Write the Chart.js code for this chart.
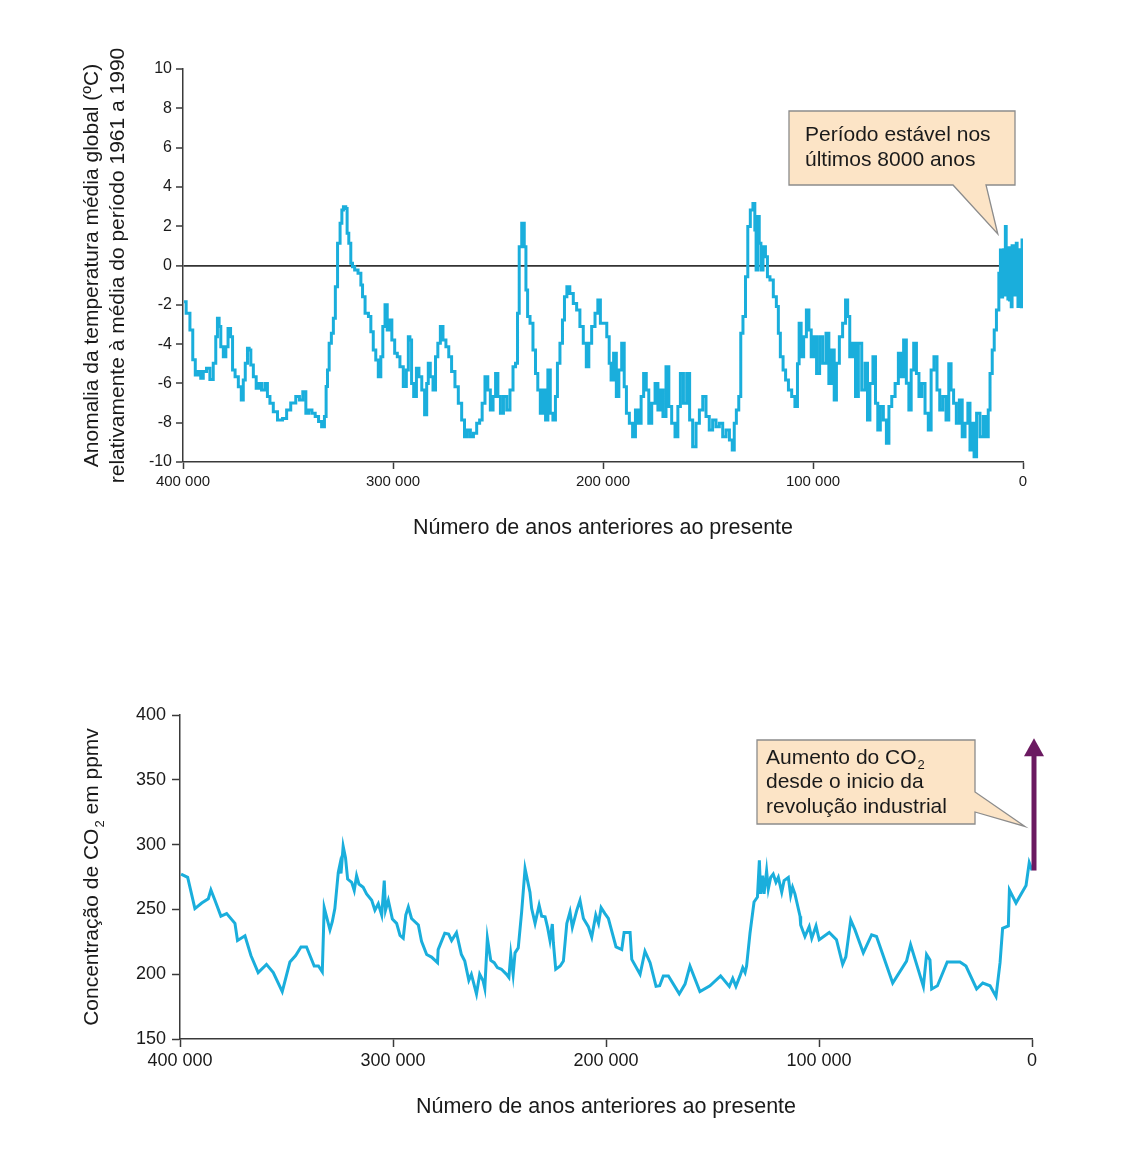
<!DOCTYPE html>
<html><head><meta charset="utf-8">
<script src="https://cdn.jsdelivr.net/npm/chart.js@4.4.0/dist/chart.umd.min.js"></script>
<style>
html,body{margin:0;padding:0;background:#fff;}
#wrap{position:relative;width:1130px;height:1167px;background:#fff;}
#c1{position:absolute;left:0;top:0;}
#c2{position:absolute;left:0;top:580px;}
</style></head><body>
<div id="wrap">
<canvas id="c1" width="1130" height="580"></canvas>
<canvas id="c2" width="1130" height="587"></canvas>
</div>
<script>
// ---------- DATA ----------
const tempAgeKyr = [399.5,397.5,395.9,394.8,393.5,392.0,391.1,389.6,388.0,386.4,384.8,384.0,383.2,382.4,381.6,380.0,379.2,377.9,376.8,376.0,374.4,372.9,371.6,371.0,369.7,368.9,368.1,367.3,365.7,364.6,363.4,361.8,360.2,359.4,357.8,356.2,353.8,351.4,349.9,347.5,345.1,344.0,341.9,341.1,339.2,338.0,336.1,334.8,333.2,332.1,331.6,330.8,330.0,328.7,328.1,326.8,326.0,324.4,324.3,322.9,322.1,321.6,320.5,319.7,318.9,317.6,315.7,314.9,314.1,312.5,310.9,310.2,308.6,307.8,306.2,305.4,304.3,303.3,302.2,301.1,300.0,298.4,297.5,295.9,294.3,293.0,292.4,291.5,290.8,289.5,288.2,287.1,285.5,284.4,283.5,282.9,281.6,280.3,279.2,278.1,276.8,275.6,274.0,272.9,271.3,269.7,268.1,266.5,265.4,263.8,262.5,260.9,259.4,258.1,257.0,255.4,254.3,253.0,251.7,250.6,249.5,248.2,246.6,245.1,243.5,242.2,241.1,240.3,239.5,237.9,237.1,236.3,235.5,234.0,232.7,231.6,230.5,229.2,227.9,226.8,225.7,224.5,223.2,222.1,221.3,219.7,218.9,217.8,216.6,215.0,213.3,211.8,210.2,208.6,207.3,206.2,204.6,203.0,201.9,200.6,199.0,197.4,196.7,195.6,194.3,193.0,191.9,190.3,189.5,188.2,186.7,185.1,184.0,182.4,181.3,180.0,178.8,177.6,176.0,174.4,173.3,172.1,170.8,169.2,168.1,166.5,164.9,163.8,162.5,160.9,159.4,158.1,156.5,154.9,153.3,151.7,150.2,148.6,147.0,145.4,143.8,142.2,140.6,139.0,137.9,137.1,135.9,134.8,134.0,132.7,131.6,130.5,129.2,128.0,127.4,126.8,126.0,125.2,124.4,123.2,122.1,121.3,119.7,118.1,116.8,116.2,114.9,113.6,112.5,110.9,109.4,107.8,107.0,106.2,105.1,103.8,102.5,101.4,100.3,99.1,97.5,96.2,94.6,93.0,91.9,90.3,89.5,88.2,86.7,85.1,83.9,83.1,81.9,80.3,79.2,77.6,76.0,74.4,73.7,72.1,70.8,69.7,68.6,67.3,65.7,64.4,63.3,61.7,60.1,58.6,57.5,56.2,54.9,53.8,52.7,51.4,50.1,49.0,47.4,45.9,44.3,43.2,41.6,40.3,39.0,37.4,35.9,34.8,33.7,32.4,31.1,29.5,28.4,26.8,25.7,24.8,23.7,22.9,21.3,19.7,18.1,16.9,16.2,15.2,14.1,13.3,12.0,11.0,10.5,10.0,9.4,9.0,8.6,8.2,7.8,7.4,7.0,6.6,6.2,5.8,5.4,5.0,4.6,4.2,3.8,3.4,3.0,2.6,2.2,1.8,1.4,1.0,0.6,0.3,0.0];
const tempAnomaly = [-1.84,-2.43,-3.28,-4.8,-5.57,-5.4,-5.74,-5.4,-5.23,-5.8,-4.98,-3.62,-2.69,-3.11,-4.13,-4.64,-4.13,-3.2,-3.62,-5.32,-5.66,-6.17,-6.84,-5.83,-4.98,-4.21,-4.3,-5.06,-5.66,-6.25,-6.0,-6.34,-6.0,-6.67,-7.01,-7.44,-7.86,-7.78,-7.35,-7.0,-6.67,-6.84,-6.42,-7.52,-7.35,-7.52,-7.69,-7.94,-8.2,-7.69,-6.16,-5.32,-3.96,-3.45,-2.69,-1.08,1.13,2.15,2.82,2.99,2.9,1.64,1.13,0.11,-0.06,-0.23,-0.4,-0.99,-1.59,-2.43,-2.6,-3.37,-4.3,-4.81,-5.66,-4.64,-3.11,-2.0,-3.28,-2.77,-3.79,-4.47,-4.64,-5.15,-6.16,-5.32,-3.62,-3.79,-6.0,-6.67,-5.23,-5.66,-6.34,-7.6,-6.0,-4.98,-5.66,-6.34,-4.64,-3.96,-3.11,-3.79,-4.13,-4.64,-5.4,-6.17,-7.01,-7.86,-8.71,-8.37,-8.71,-8.54,-8.03,-7.86,-7.01,-5.66,-6.34,-7.35,-6.67,-5.49,-6.67,-7.52,-6.67,-7.35,-6.34,-5.15,-4.98,-2.43,0.96,2.15,0.96,-1.25,-2.6,-2.94,-4.3,-5.49,-6.34,-7.52,-6.34,-7.86,-5.32,-7.52,-7.86,-6.67,-4.98,-3.96,-2.77,-1.59,-1.08,-1.42,-1.93,-2.26,-3.11,-3.96,-5.15,-3.96,-3.11,-2.43,-1.76,-2.94,-2.94,-3.62,-4.98,-5.83,-4.47,-6.67,-5.32,-3.96,-6.17,-7.52,-8.03,-8.71,-7.35,-8.03,-6.67,-5.49,-6.34,-8.03,-7.01,-6.0,-7.35,-6.34,-7.69,-5.15,-7.18,-8.03,-8.71,-7.18,-5.49,-7.01,-5.49,-7.86,-9.22,-8.03,-7.35,-6.67,-7.69,-8.37,-7.86,-8.2,-8.03,-8.71,-8.37,-8.88,-9.39,-8.03,-7.35,-6.67,-3.45,-2.6,-0.57,1.98,2.82,3.16,1.81,-0.23,2.49,1.13,-0.23,0.96,0.45,-0.57,-0.74,-1.59,-2.09,-3.45,-4.64,-5.32,-5.83,-6.34,-6.67,-7.18,-5.0,-2.94,-4.64,-3.62,-2.26,-3.28,-4.64,-3.62,-5.49,-3.62,-4.98,-3.45,-6.0,-4.3,-6.84,-4.98,-3.62,-2.94,-1.76,-2.6,-4.64,-3.96,-6.67,-3.96,-6.34,-4.98,-7.86,-6.0,-4.64,-7.01,-8.37,-7.18,-7.86,-9.05,-7.18,-6.67,-6.0,-4.47,-5.66,-3.79,-5.99,-7.35,-5.32,-3.96,-5.49,-6.67,-6.0,-7.52,-8.37,-5.32,-4.64,-6.34,-7.35,-6.67,-7.86,-5.0,-6.34,-7.01,-8.03,-6.84,-8.71,-8.03,-7.01,-9.39,-8.03,-9.73,-7.52,-8.71,-7.69,-8.71,-7.35,-5.49,-4.3,-3.28,-2.26,-0.4,0.79,-1.6,-1.25,0.8,-1.5,1.98,-0.8,0.6,-1.7,0.9,-1.76,0.4,-2.1,1.0,-1.3,0.7,-1.5,1.0,1.13,-1.4,-2.09,0.8,-1.6,0.6,-2.1,1.3,-1.0];

const co2AgeKyr = [399.5,396.4,393.0,389.8,386.7,385.5,383.6,380.8,378.1,374.2,373.0,369.5,366.7,363.3,359.4,356.2,352.0,348.4,345.7,343.2,340.6,337.0,335.0,333.2,332.3,329.6,328.5,327.3,325.7,324.9,324.4,323.4,322.3,321.3,319.4,318.2,317.1,316.0,314.0,312.4,310.0,308.5,306.9,305.3,304.1,303.5,302.2,300.3,298.3,296.7,295.2,294.0,292.8,291.3,288.1,286.6,284.2,281.9,279.1,278.8,275.7,273.9,272.5,270.2,267.9,266.3,264.4,263.2,262.4,260.8,259.3,257.7,256.9,255.7,254.1,252.5,251.0,249.1,246.7,245.6,244.7,243.6,242.7,241.2,239.6,238.0,235.7,234.9,233.3,231.4,230.2,228.6,227.4,226.3,225.2,224.7,223.6,221.5,220.0,218.4,216.9,215.8,213.7,212.2,210.6,208.3,206.7,204.8,203.5,202.3,200.5,198.9,195.3,192.6,191.5,188.7,187.9,184.0,181.7,179.3,176.5,174.8,173.1,170.7,165.6,162.9,160.6,155.9,151.2,146.2,142.1,140.5,139.0,137.1,135.8,134.7,134.0,132.4,130.5,128.9,128.0,127.4,126.5,125.8,124.6,123.8,122.7,121.5,120.2,119.1,117.5,116.4,114.4,113.3,112.4,111.3,108.9,108.6,106.6,104.6,103.4,101.4,99.9,95.2,91.8,88.9,87.4,85.1,83.1,79.2,75.3,73.0,65.4,58.9,57.0,51.0,49.5,47.9,47.1,44.4,39.8,33.8,31.0,26.0,23.1,19.7,16.9,15.0,13.8,11.1,10.6,7.5,5.9,2.8,1.3,0.0];
const co2Ppmv = [277.2,274.7,250.6,254.9,258.2,265,257,244.8,246.8,239.2,226,229.6,214.4,201.3,207.6,201.3,186.6,209.4,214.4,221,221,206.3,206.3,201.8,251.4,234.2,240.5,250.6,278.5,284.8,277.7,298.7,289.9,273.4,270.9,264.6,276,269.6,267.1,262,257,249.4,254.4,245.6,272.2,249.4,256.9,242.5,239.2,229.9,227.8,245.6,251.9,243,238,225.3,215.2,213.2,208.9,219,231.6,230.9,226,232.1,215.2,210.1,195.3,199.9,194.9,184.8,200,194.9,189.1,227.8,210.6,208.9,205.1,203.8,199.9,197.5,215.2,199.9,216.5,220.3,248.1,281.5,263.3,250.6,239.2,253.2,244.8,244.3,235.9,226.1,238.7,224.1,203.8,206.3,210.1,239.2,248.1,236.2,249.4,256.9,243,236.7,228.6,245.6,239.2,251.4,246.8,243,221,219,232.2,232.2,211.4,200,217.7,208.9,190.6,191.1,198.7,198.7,184.8,192.4,206.3,186.6,191.1,198.7,190.6,196.7,190.6,198.7,205,201.3,206.3,231.6,255.7,259.5,287.8,262,276,262,279.7,265.8,274.7,277.2,270.9,274.7,263.3,272.2,274.7,260.8,267.1,262,244.8,238,229.1,236.7,227.8,237.2,226.6,232.2,226.6,207.6,213.4,241.8,234.2,216.5,230.4,229.1,193.2,210.1,222.8,190.6,215.2,210.9,188.6,191.1,209.4,209.4,206.3,188.6,193.2,191.1,182.8,208.9,235.4,237.2,265,254.9,259.5,268.4,286.1,280.3];

const yearTickValues = [0, 100000, 200000, 300000, 400000];
const yearTickLabels = ['0', '100 000', '200 000', '300 000', '400 000'];
const tempTickValues = [-10, -8, -6, -4, -2, 0, 2, 4, 6, 8, 10];
const tempTickLabels = ['-10', '-8', '-6', '-4', '-2', '0', '2', '4', '6', '8', '10'];
const co2TickValues = [150, 200, 250, 300, 350, 400];
const co2TickLabels = ['150', '200', '250', '300', '350', '400'];
const co2RiseArrow = [280, 382];        // ppmv, at year 0
const xTitle = 'Número de anos anteriores ao presente';
const tempTitle = ['Anomalia da temperatura média global (ºC)', 'relativamente à média do período 1961 a 1990'];
const co2TitleParts = ['Concentração de CO', '2', ' em ppmv'];
const noteTemp = ['Período estável nos', 'últimos 8000 anos'];
const noteCo2 = [['Aumento do CO', '2'], ['desde o inicio da', ''], ['revolução industrial', '']];

// ---------- STYLE ----------
const FONT = '"Liberation Sans", Arial, Helvetica, sans-serif';
const LINE = '#1AAEDC';
const AXIS = '#3a3a3a';
const TXT = '#1a1a1a';
const PURPLE = '#6B1A61';
const BOX = '#FCE4C6';
const BOXLINE = '#8c8c8c';

function labelFrom(values, labels) {
  return v => { const i = values.indexOf(v); return i >= 0 ? labels[i] : ''; };
}
function fixedTicks(values) {
  return s => { s.ticks = values.map(v => ({ value: v })); };
}

// ---------- TOP CHART ----------
const calloutTop = {
  id: 'calloutTop',
  afterDatasetsDraw(chart) {
    const { ctx, scales: { x, y } } = chart;
    const tx = x.getPixelForValue(12000), ty = y.getPixelForValue(1.6);
    ctx.save();
    ctx.beginPath();
    ctx.moveTo(789, 111); ctx.lineTo(1015, 111); ctx.lineTo(1015, 185);
    ctx.lineTo(986, 185); ctx.lineTo(tx, ty); ctx.lineTo(953, 185);
    ctx.lineTo(789, 185); ctx.closePath();
    ctx.fillStyle = BOX; ctx.fill();
    ctx.strokeStyle = BOXLINE; ctx.lineWidth = 1.3; ctx.stroke();
    ctx.fillStyle = TXT; ctx.font = '21px ' + FONT; ctx.textBaseline = 'alphabetic'; ctx.textAlign = 'left';
    ctx.fillText(noteTemp[0], 805, 141);
    ctx.fillText(noteTemp[1], 805, 166);
    ctx.restore();
  }
};

new Chart(document.getElementById('c1'), {
  type: 'line',
  data: {
    datasets: [{
      data: tempAgeKyr.map((a, i) => ({ x: a * 1000, y: tempAnomaly[i] })),
      borderColor: LINE, borderWidth: 3, pointRadius: 0, stepped: 'middle', fill: false,
      borderJoinStyle: 'miter'
    }]
  },
  options: {
    responsive: false, animation: false, events: [],
    layout: { padding: { left: 0, right: 107, top: 69, bottom: 0 } },
    plugins: { legend: { display: false }, tooltip: { enabled: false } },
    scales: {
      x: {
        type: 'linear', min: 0, max: 400000, reverse: true,
        afterBuildTicks: fixedTicks(yearTickValues),
        afterFit: s => { s.height = 118; },
        border: { display: true, color: AXIS, width: 1.5 },
        grid: { drawOnChartArea: false, drawTicks: true, tickLength: 7, tickColor: AXIS, tickWidth: 1.5 },
        ticks: { callback: labelFrom(yearTickValues, yearTickLabels), color: TXT, font: { family: FONT, size: 15 }, padding: 4, maxRotation: 0, autoSkip: false },
        title: { display: true, text: xTitle, color: TXT, font: { family: FONT, size: 21.5 }, padding: { top: 0, bottom: 39 } }
      },
      y: {
        type: 'linear', min: -10, max: 10,
        afterBuildTicks: fixedTicks(tempTickValues),
        afterFit: s => { s.width = 183; },
        border: { display: true, color: AXIS, width: 1.5 },
        grid: {
          drawOnChartArea: true, drawTicks: true, tickLength: 7, tickColor: AXIS, tickWidth: 1.5,
          color: c => (c.tick && c.tick.value === 0) ? '#333333' : 'rgba(0,0,0,0)',
          lineWidth: c => (c.tick && c.tick.value === 0) ? 1.8 : 0
        },
        ticks: { callback: labelFrom(tempTickValues, tempTickLabels), color: TXT, font: { family: FONT, size: 16 }, padding: 4, autoSkip: false },
        title: { display: true, text: tempTitle, color: TXT, font: { family: FONT, size: 21, lineHeight: 1.2 }, padding: { top: 80, bottom: 0 } }
      }
    }
  },
  plugins: [calloutTop]
});

// ---------- BOTTOM CHART ----------
const co2Extras = {
  id: 'co2Extras',
  afterDatasetsDraw(chart) {
    const { ctx, scales: { x, y } } = chart;
    ctx.save();
    // arrow
    const ax = x.getPixelForValue(0) + 2;
    const y0 = y.getPixelForValue(co2RiseArrow[0]);
    const y1 = y.getPixelForValue(co2RiseArrow[1]);
    ctx.strokeStyle = PURPLE; ctx.fillStyle = PURPLE; ctx.lineWidth = 5; ctx.lineCap = 'butt';
    ctx.beginPath(); ctx.moveTo(ax, y0); ctx.lineTo(ax, y1 + 16); ctx.stroke();
    ctx.beginPath(); ctx.moveTo(ax, y1); ctx.lineTo(ax - 10, y1 + 18); ctx.lineTo(ax + 10, y1 + 18); ctx.closePath(); ctx.fill();
    // callout
    const tx = x.getPixelForValue(3300), ty = y.getPixelForValue(314);
    ctx.beginPath();
    ctx.moveTo(757, 160); ctx.lineTo(975, 160); ctx.lineTo(975, 212);
    ctx.lineTo(tx, ty); ctx.lineTo(975, 232); ctx.lineTo(975, 244);
    ctx.lineTo(757, 244); ctx.closePath();
    ctx.fillStyle = BOX; ctx.fill();
    ctx.strokeStyle = BOXLINE; ctx.lineWidth = 1.3; ctx.stroke();
    ctx.fillStyle = TXT; ctx.textAlign = 'left'; ctx.textBaseline = 'alphabetic';
    const base = [184, 208, 233];
    noteCo2.forEach((ln, i) => {
      ctx.font = '21px ' + FONT;
      ctx.fillText(ln[0], 766, base[i]);
      if (ln[1]) {
        const w = ctx.measureText(ln[0]).width;
        ctx.font = '13px ' + FONT;
        ctx.fillText(ln[1], 766 + w + 1, base[i] + 5);
      }
    });
    ctx.restore();
  },
  afterDraw(chart) {
    const { ctx, chartArea } = chart;
    ctx.save();
    ctx.translate(92, (chartArea.top + chartArea.bottom) / 2);
    ctx.rotate(-Math.PI / 2);
    ctx.fillStyle = TXT; ctx.textBaseline = 'middle'; ctx.textAlign = 'left';
    ctx.font = '21px ' + FONT;
    const w0 = ctx.measureText(co2TitleParts[0]).width;
    const w2 = ctx.measureText(co2TitleParts[2]).width;
    ctx.font = '13px ' + FONT;
    const w1 = ctx.measureText(co2TitleParts[1]).width;
    const total = w0 + w1 + 1 + w2;
    let px = -total / 2;
    ctx.font = '21px ' + FONT;
    ctx.fillText(co2TitleParts[0], px, 0); px += w0 + 1;
    ctx.font = '13px ' + FONT;
    ctx.fillText(co2TitleParts[1], px, 8); px += w1;
    ctx.font = '21px ' + FONT;
    ctx.fillText(co2TitleParts[2], px, 0);
    ctx.restore();
  }
};

new Chart(document.getElementById('c2'), {
  type: 'line',
  data: {
    datasets: [{
      data: co2AgeKyr.map((a, i) => ({ x: a * 1000, y: co2Ppmv[i] })),
      borderColor: LINE, borderWidth: 3, pointRadius: 0, tension: 0, fill: false
    }]
  },
  options: {
    responsive: false, animation: false, events: [],
    layout: { padding: { left: 0, right: 98, top: 135, bottom: 0 } },
    plugins: { legend: { display: false }, tooltip: { enabled: false } },
    scales: {
      x: {
        type: 'linear', min: 0, max: 400000, reverse: true,
        afterBuildTicks: fixedTicks(yearTickValues),
        afterFit: s => { s.height = 128; },
        border: { display: true, color: AXIS, width: 1.5 },
        grid: { drawOnChartArea: false, drawTicks: true, tickLength: 8, tickColor: AXIS, tickWidth: 1.5 },
        ticks: { callback: labelFrom(yearTickValues, yearTickLabels), color: TXT, font: { family: FONT, size: 18 }, padding: 3, maxRotation: 0, autoSkip: false },
        title: { display: true, text: xTitle, color: TXT, font: { family: FONT, size: 21.5 }, padding: { top: 0, bottom: 47 } }
      },
      y: {
        type: 'linear', min: 150, max: 400,
        afterBuildTicks: fixedTicks(co2TickValues),
        afterFit: s => { s.width = 180; },
        border: { display: true, color: AXIS, width: 1.5 },
        grid: { drawOnChartArea: false, drawTicks: true, tickLength: 8, tickColor: AXIS, tickWidth: 1.5 },
        ticks: { callback: labelFrom(co2TickValues, co2TickLabels), color: TXT, font: { family: FONT, size: 18 }, padding: 6, autoSkip: false },
        title: { display: false }
      }
    }
  },
  plugins: [co2Extras]
});
</script>
</body></html>
